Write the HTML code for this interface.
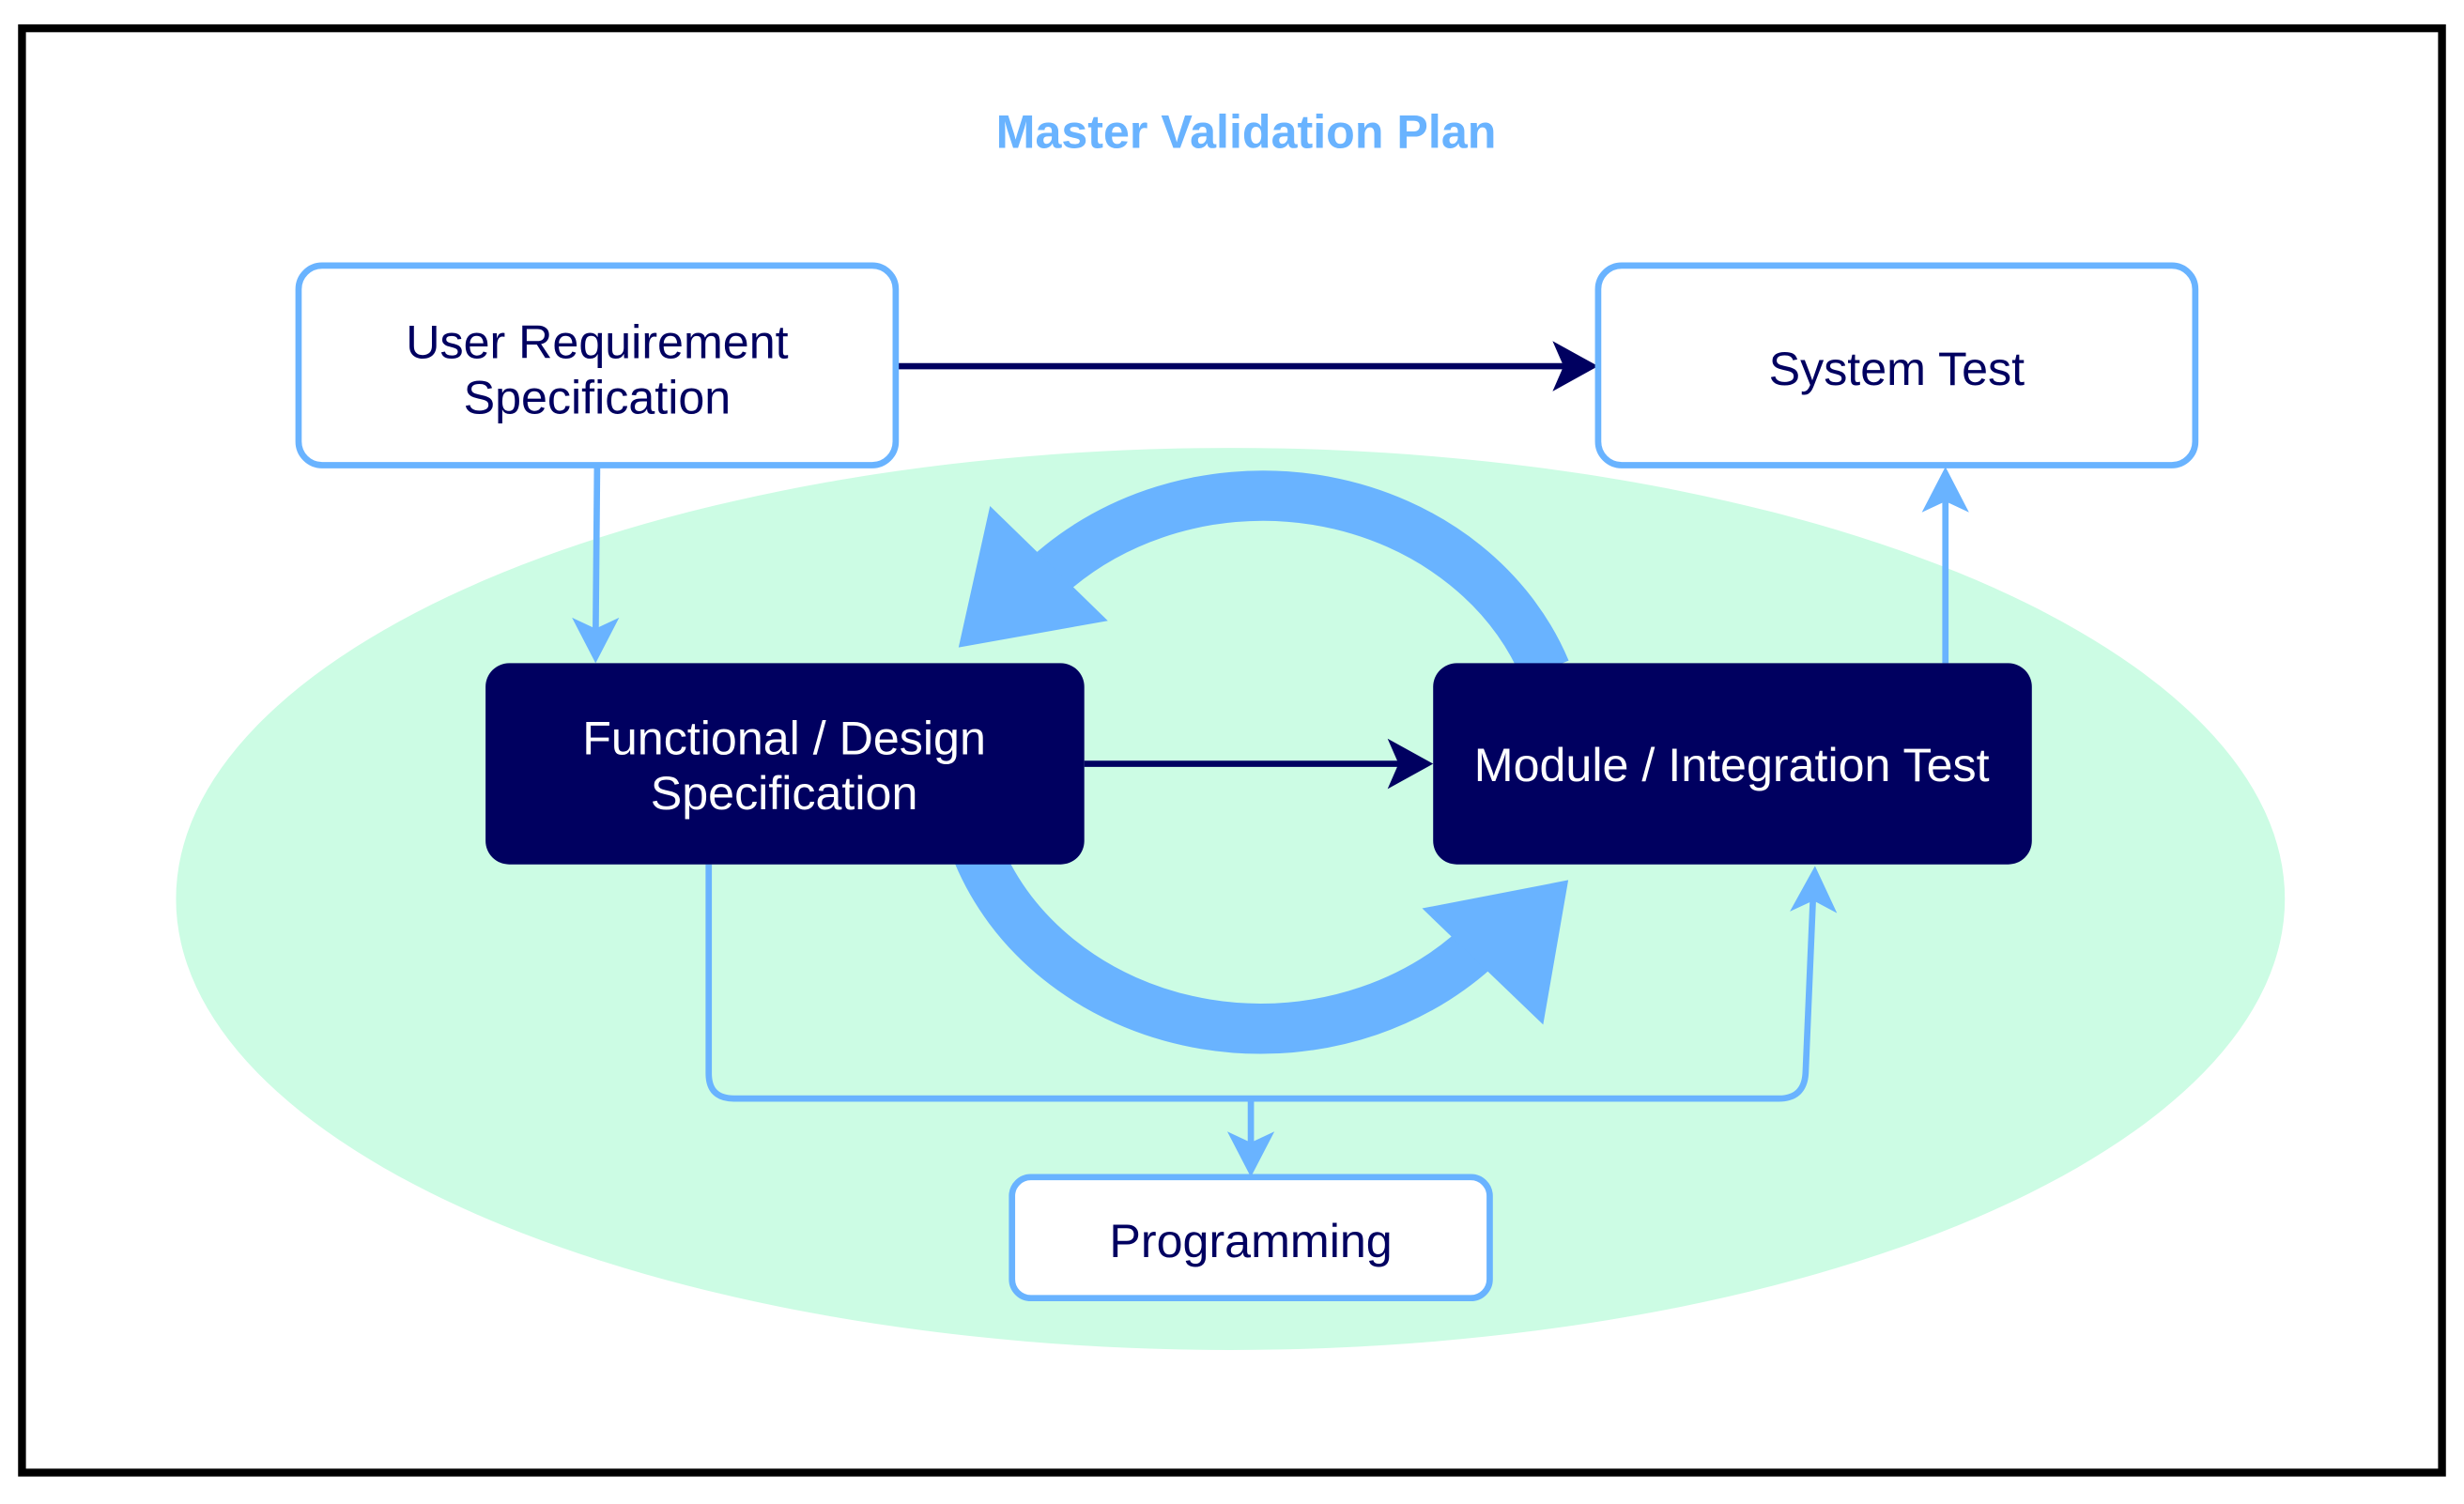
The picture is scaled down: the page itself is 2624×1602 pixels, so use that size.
<!DOCTYPE html>
<html><head><meta charset="utf-8"><style>
html,body{margin:0;padding:0;background:#fff;}
svg{display:block;}
</style></head><body>
<svg width="2624" height="1602" viewBox="0 0 1568 957" preserveAspectRatio="none" xmlns="http://www.w3.org/2000/svg" font-family="Liberation Sans, Arial, sans-serif">
<rect x="0" y="0" width="1568" height="957" fill="#fff"/>
<rect x="14" y="18" width="1540" height="919" fill="#fff" stroke="#000" stroke-width="5"/>
<text x="793" y="94" text-anchor="middle" font-size="30" font-weight="bold" fill="#69b3ff">Master Validation Plan</text>
<ellipse cx="783" cy="572" rx="671" ry="287" fill="#ccfce4"/>

<!-- cycle arrows -->
<path d="M 983.5 426.5 A 192 171 0 0 0 660 373" fill="none" stroke="#69b3ff" stroke-width="32"/>
<polygon points="630,322 610,412 705,395" fill="#69b3ff"/>
<path d="M 622.5 543.5 A 192 171 0 0 0 946 597" fill="none" stroke="#69b3ff" stroke-width="32"/>
<polygon points="998,560 982,652 905,578" fill="#69b3ff"/>

<!-- connectors -->
<line x1="570" y1="233" x2="1005" y2="233" stroke="#000060" stroke-width="4"/>
<polygon points="1017,233 988,217 995,233 988,249" fill="#000060"/>
<line x1="380" y1="296" x2="379" y2="410" stroke="#69b3ff" stroke-width="4"/>
<polygon points="379,422 364,393 379,400 394,393" fill="#69b3ff"/>
<line x1="1238" y1="422" x2="1238" y2="310" stroke="#69b3ff" stroke-width="4"/>
<polygon points="1238,297 1223,326 1238,319 1253,326" fill="#69b3ff"/>
<line x1="690" y1="486" x2="900" y2="486" stroke="#000060" stroke-width="4"/>
<polygon points="912,486 883,470 890,486 883,502" fill="#000060"/>
<path d="M 451 550 L 451 683 Q 451 699 467 699 L 1132 699 Q 1148 699 1149 683 L 1154 565" fill="none" stroke="#69b3ff" stroke-width="4"/>
<polygon points="1155,551 1139,580 1154,573 1169,581" fill="#69b3ff"/>
<line x1="796" y1="699" x2="796" y2="738" stroke="#69b3ff" stroke-width="4"/>
<polygon points="796,749 781,720 796,727 811,720" fill="#69b3ff"/>

<!-- boxes -->
<rect x="190" y="169" width="380" height="127" rx="15" fill="#fff" stroke="#69b3ff" stroke-width="4"/>
<text x="380" y="228" text-anchor="middle" font-size="30" fill="#000060">User Requirement</text>
<text x="380" y="263" text-anchor="middle" font-size="30" fill="#000060">Specification</text>
<rect x="1017" y="169" width="380" height="127" rx="15" fill="#fff" stroke="#69b3ff" stroke-width="4"/>
<text x="1207" y="245" text-anchor="middle" font-size="30" fill="#000060">System Test</text>
<rect x="309" y="422" width="381" height="128" rx="15" fill="#000060"/>
<text x="499" y="480" text-anchor="middle" font-size="30" fill="#fff">Functional / Design</text>
<text x="499" y="515" text-anchor="middle" font-size="30" fill="#fff">Specification</text>
<rect x="912" y="422" width="381" height="128" rx="15" fill="#000060"/>
<text x="1102" y="497" text-anchor="middle" font-size="30" fill="#fff">Module / Integration Test</text>
<rect x="644" y="749" width="304" height="77" rx="12" fill="#fff" stroke="#69b3ff" stroke-width="4"/>
<text x="796" y="800" text-anchor="middle" font-size="30" fill="#000060">Programming</text>
</svg>
</body></html>
